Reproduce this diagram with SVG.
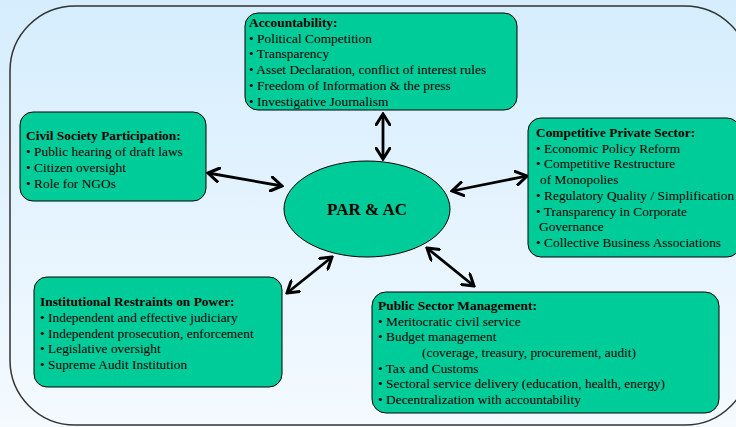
<svg xmlns="http://www.w3.org/2000/svg" width="736" height="427" viewBox="0 0 736 427">
<defs>
<linearGradient id="bg" x1="0" y1="0" x2="0" y2="1">
<stop offset="0" stop-color="#d5edfd"/>
<stop offset="1" stop-color="#f4faff"/>
</linearGradient>
<marker id="ah" viewBox="0 0 14 16" refX="12" refY="8" markerWidth="14" markerHeight="16" markerUnits="userSpaceOnUse" orient="auto-start-reverse">
<path d="M1,1 L12,8 L1,15" fill="none" stroke="#000" stroke-width="3" stroke-linecap="round" stroke-linejoin="miter"/>
</marker>
</defs>
<style>
.box{fill:#00cc99;stroke:#000;stroke-width:1}
.t{font-family:"Liberation Serif","Times New Roman",serif;font-size:13.4px;fill:#000}
.b{font-weight:bold}
.c{fill:none;stroke:#000;stroke-width:2.8;marker-start:url(#ah);marker-end:url(#ah)}
</style>
<rect width="736" height="427" fill="url(#bg)"/>
<rect x="10" y="6" width="740" height="419" rx="65" ry="65" fill="none" stroke="#333" stroke-width="1.5"/>

<g id="connectors">
<line class="c" x1="383" y1="114" x2="383" y2="159"/>
<line class="c" x1="208" y1="173" x2="282" y2="186"/>
<line class="c" x1="527" y1="176" x2="452" y2="191"/>
<line class="c" x1="287" y1="293" x2="332" y2="257"/>
<line class="c" x1="474" y1="286" x2="427" y2="248"/>
</g>

<g id="center">
<ellipse class="box" cx="367" cy="209" rx="83" ry="48"/>
<text class="t b" x="367" y="215" text-anchor="middle" style="font-size:17px">PAR &amp; AC</text>
</g>

<g id="accountability">
<rect class="box" x="245" y="13" width="272" height="97" rx="13"/>
<text class="t"><tspan class="b" x="249" y="27">Accountability:</tspan><tspan x="249" y="42.5">• Political Competition</tspan><tspan x="249" y="58">• Transparency</tspan><tspan x="249" y="74">• Asset Declaration, conflict of interest rules</tspan><tspan x="249" y="90">• Freedom of Information &amp; the press</tspan><tspan x="249" y="105.5">• Investigative Journalism</tspan></text>
</g>

<g id="civil-society">
<rect class="box" x="20" y="112" width="186" height="89" rx="13"/>
<text class="t"><tspan class="b" x="26" y="140">Civil Society Participation:</tspan><tspan x="26" y="156">• Public hearing of draft laws</tspan><tspan x="26" y="172">• Citizen oversight</tspan><tspan x="26" y="188">• Role for NGOs</tspan></text>
</g>

<g id="private-sector">
<rect class="box" x="528" y="118" width="212" height="139" rx="13"/>
<text class="t"><tspan class="b" x="536" y="136.5">Competitive Private Sector:</tspan><tspan x="536" y="152.5">• Economic Policy Reform</tspan><tspan x="536" y="168">• Competitive Restructure</tspan><tspan x="540" y="184">of Monopolies</tspan><tspan x="536" y="200">• Regulatory Quality / Simplification</tspan><tspan x="536" y="215.5">• Transparency in Corporate</tspan><tspan x="539" y="231">Governance</tspan><tspan x="536" y="247">• Collective Business Associations</tspan></text>
</g>

<g id="institutional">
<rect class="box" x="34" y="277" width="248" height="110" rx="13"/>
<text class="t"><tspan class="b" x="40" y="306">Institutional Restraints on Power:</tspan><tspan x="40" y="321.5">• Independent and effective judiciary</tspan><tspan x="40" y="337.5">• Independent prosecution, enforcement</tspan><tspan x="40" y="353">• Legislative oversight</tspan><tspan x="40" y="369">• Supreme Audit Institution</tspan></text>
</g>

<g id="public-sector">
<rect class="box" x="372" y="292" width="347" height="121" rx="14"/>
<text class="t"><tspan class="b" x="378" y="310">Public Sector Management:</tspan><tspan x="378" y="325.5">• Meritocratic civil service</tspan><tspan x="378" y="341">• Budget management</tspan><tspan x="422" y="357">(coverage, treasury, procurement, audit)</tspan><tspan x="378" y="372.5">• Tax and Customs</tspan><tspan x="378" y="388">• Sectoral service delivery (education, health, energy)</tspan><tspan x="378" y="404">• Decentralization with accountability</tspan></text>
</g>
</svg>
